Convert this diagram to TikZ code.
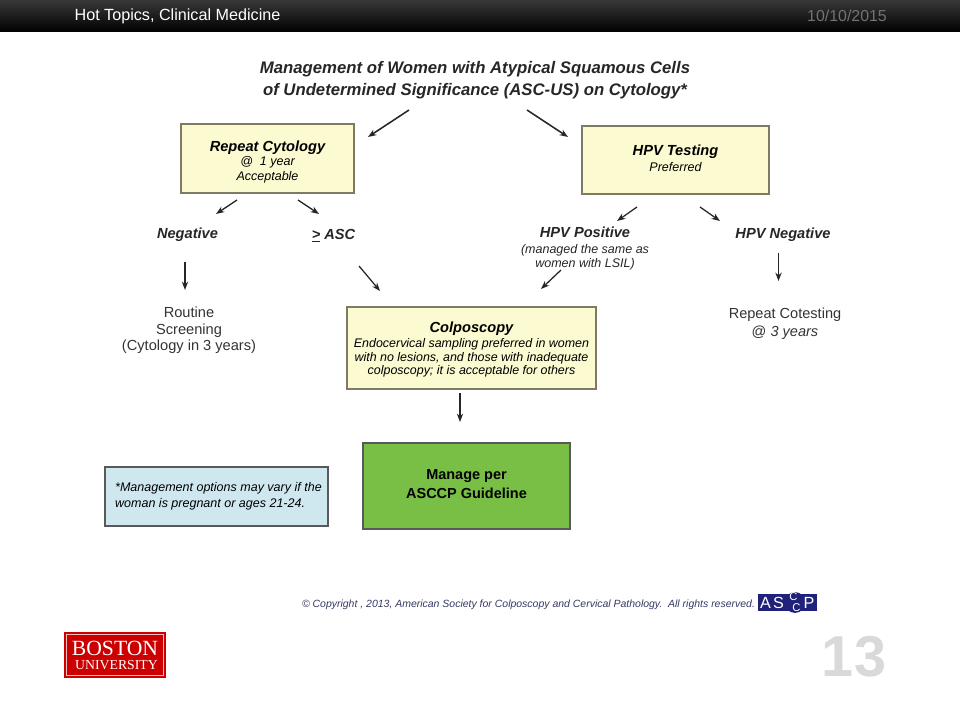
\documentclass[tikz,border=0pt]{standalone}
\usepackage{fontspec}
\setmainfont{Liberation Sans}
\newfontfamily\logofont{Liberation Serif}
\usetikzlibrary{arrows.meta}
\definecolor{boxfill}{HTML}{FCFAD0}
\definecolor{boxline}{HTML}{7F7B62}
\definecolor{notefill}{HTML}{CFE8F0}
\definecolor{managefill}{HTML}{79BF45}
\definecolor{bured}{HTML}{CC0000}
\definecolor{ascnavy}{HTML}{1F2278}
\newcommand{\boxhead}[1]{{\fontsize{10.4}{12}\selectfont\bfseries #1}}
\newcommand{\boxnote}[1]{{\fontsize{8.9}{10}\selectfont\mdseries #1}}
\tikzset{
    flowbox/.style={draw=boxline, line width=0.9pt, fill=boxfill, minimum width=#1, align=center, inner sep=0pt},
    heading/.style={font=\fontsize{11.9}{15.6}\selectfont\bfseries\itshape, text=black!85, align=center},
    result/.style={font=\fontsize{10.4}{11}\selectfont\bfseries\itshape, text=black!85, align=center},
    plainlabel/.style={font=\fontsize{10.4}{11.8}\selectfont, text=black!80, align=center},
    markletter/.style={text=white, inner sep=0pt, font=\fontsize{11.5}{12}\selectfont},
    flowarrow/.style={-{Stealth[length=6pt, width=4.5pt]}, line width=0.9pt, black!85},
}
\begin{document}
\begin{tikzpicture}[x=0.025cm, y=-0.025cm]
    \useasboundingbox (0,0) rectangle (960,720);

    % Draw header bar
    \shade[top color=black!78, bottom color=black] (0,0) rectangle (960,32);
    \node [text=white, font=\fontsize{11.5}{13}\selectfont] (topic) at (177.5,16) {Hot Topics, Clinical Medicine};
    \node [text=black!55, font=\fontsize{11.3}{13}\selectfont] (date) at (847,16) {10/10/2015};

    % Add title
    \node [heading] (title) at (475,80) {Management of Women with Atypical Squamous Cells\\of Undetermined Significance (ASC-US) on Cytology*};

    % Draw boxes
    \node [flowbox=4.325cm, minimum height=1.725cm, font=\fontsize{8.9}{10.4}\selectfont\itshape] (repeat) at (267.5,158.5) {\rule{0pt}{12pt}\boxhead{Repeat Cytology}\\@\ \ 1 year\\Acceptable};
    \node [flowbox=4.675cm, minimum height=1.7cm, font=\fontsize{8.9}{11.4}\selectfont\itshape] (hpv) at (675.5,160) {\rule{0pt}{8pt}\boxhead{HPV Testing}\\Preferred\rule[-3.5pt]{0pt}{0pt}};
    \node [flowbox=6.225cm, minimum height=2.05cm, font=\fontsize{8.85}{9.6}\selectfont\itshape] (colposcopy) at (471.5,348) {\rule{0pt}{10pt}\boxhead{Colposcopy}\\[1pt]Endocervical sampling preferred in women\\with no lesions, and those with inadequate\\colposcopy; it is acceptable for others};
    \node [flowbox=5.175cm, minimum height=2.15cm, fill=managefill, draw=black!65, font=\fontsize{10.3}{13.5}\selectfont\bfseries] (manage) at (466.5,486) {Manage per\\ASCCP Guideline\rule[-3pt]{0pt}{0pt}};
    \node [flowbox=5.575cm, minimum height=1.475cm, fill=notefill, draw=black!65, font=\fontsize{8.9}{11.4}\selectfont\itshape, align=left] (note) at (216.5,496.5) {\hspace*{2.8pt}*Management options may vary if the\\\hspace*{2.8pt}woman is pregnant or ages 21-24.};

    % Add result labels
    \node [result] (negative) at (187.5,235) {Negative};
    \node [result] (asc) at (333.5,236) {\underline{>} ASC};
    \node [result, font=\fontsize{10.4}{9.4}\selectfont\bfseries\itshape] (positive) at (585,248.5) {\boxhead{HPV Positive}\\[2pt]\boxnote{(managed the same as}\\\boxnote{women with LSIL)}};
    \node [result] (hpvneg) at (783,235) {HPV Negative};
    \node [plainlabel] (routine) at (189,330.5) {Routine\\Screening\\(Cytology in 3 years)};
    \node [plainlabel, font=\fontsize{10.35}{12.8}\selectfont] (cotest) at (785,324) {Repeat Cotesting\\@ \textit{3 years}};

    % Draw arrows
    \draw[flowarrow, line width=1.1pt] ([shift={(-66,30)}]title.center) -- ([shift={(100.5,-21.5)}]repeat.center);
    \draw[flowarrow, line width=1.1pt] ([shift={(52,30)}]title.center) -- ([shift={(-107.5,-23)}]hpv.center);
    \draw[flowarrow] ([shift={(-30.5,41.5)}]repeat.center) -- ([shift={(28.5,-21)}]negative.center);
    \draw[flowarrow] ([shift={(30.5,41.5)}]repeat.center) -- ([shift={(-14.5,-22)}]asc.center);
    \draw[flowarrow] ([shift={(-2.5,27)}]negative.center) -- ([shift={(-4,-40.5)}]routine.center);
    \draw[flowarrow] ([shift={(25.5,30)}]asc.center) -- ([shift={(-91.5,-57)}]colposcopy.center);
    \draw[flowarrow] ([shift={(-38.5,47)}]hpv.center) -- ([shift={(32,-27.5)}]positive.center);
    \draw[flowarrow] ([shift={(24.5,47)}]hpv.center) -- ([shift={(-63,-14)}]hpvneg.center);
    \draw[flowarrow] ([shift={(-24,21.5)}]positive.center) -- ([shift={(69.5,-59)}]colposcopy.center);
    \draw[flowarrow] ([shift={(-4.5,18)}]hpvneg.center) -- ([shift={(-6.5,-43)}]cotest.center);
    \draw[flowarrow] ([shift={(-11.5,45)}]colposcopy.center) -- ([shift={(-6.5,-64)}]manage.center);

    % Add copyright line and society mark
    \node [text=ascnavy!60!black!85, font=\fontsize{7.45}{9}\selectfont\itshape] (copyright) at (528.5,604.5) {© Copyright , 2013, American Society for Colposcopy and Cervical Pathology.\ \ All rights reserved.};
    \fill[ascnavy] (758,594) rectangle (817,610.5);
    \fill[ascnavy] (795,602.5) circle (0.26cm);
    \node [markletter] (asca) at (765.5,602.5) {A};
    \node [markletter] (ascs) at (778.5,602.5) {S};
    \node [markletter, font=\fontsize{8}{9}\selectfont] (ascc) at (793.5,597) {C};
    \node [markletter, font=\fontsize{8}{9}\selectfont] (ascd) at (796.5,607.5) {C};
    \node [markletter] (ascp) at (809,602.5) {P};

    % Draw university logo
    \fill[bured] (64,632) rectangle (166,678);
    \draw[white!75!bured, line width=0.7pt] (66.5,634.5) rectangle (163.5,675.5);
    \node [text=white, inner sep=0pt, font=\fontsize{15.4}{16}\selectfont\logofont] (boston) at (115,648) {BOSTON};
    \node [text=white, inner sep=0pt, font=\fontsize{9.8}{10}\selectfont\logofont] (university) at (116.5,665) {UNIVERSITY};

    % Add page number
    \node [text=black!15, font=\fontsize{41}{43}\selectfont\bfseries] (page) at (854,656.5) {13};
\end{tikzpicture}
\end{document}
